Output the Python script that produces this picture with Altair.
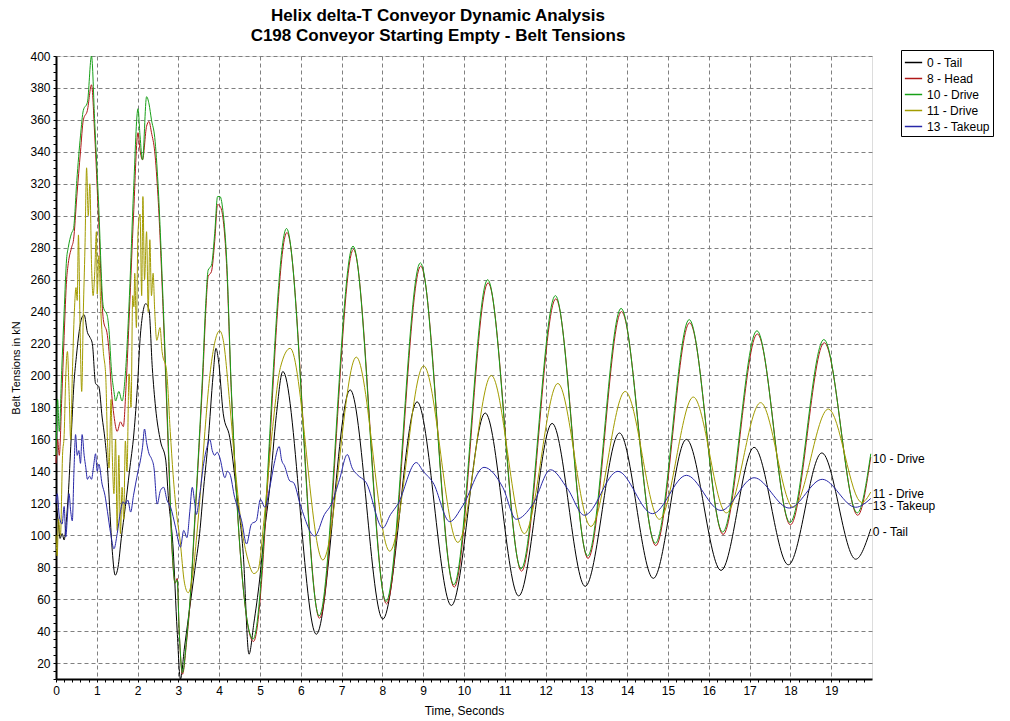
import altair as alt
import pandas as pd

names = ["0 - Tail", "8 - Head", "10 - Drive", "11 - Drive", "13 - Takeup"]
colors = ["#000000", "#b01818", "#18a018", "#a39c00", "#2828a8"]
end_labels = ["10 - Drive", "11 - Drive", "13 - Takeup", "0 - Tail"]
end_label_dy = [5, 2, 8, 3]

tail_t = [0.00, 0.05, 0.10, 0.15, 0.20, 0.25, 0.30, 0.37, 0.44, 0.50, 0.56, 0.63, 0.69, 0.77, 0.83, 0.89,
          0.97, 1.05, 1.13, 1.20, 1.26, 1.32, 1.38, 1.45, 1.52, 1.60, 1.70, 1.80, 1.91, 2.00, 2.07, 2.20,
          2.28, 2.36, 2.44, 2.56, 2.69, 2.75, 2.87, 2.97, 3.05, 3.15, 3.28, 3.40, 3.52, 3.62, 3.73, 3.85,
          3.92, 3.98, 4.10, 4.26, 4.42, 4.59, 4.73, 4.85, 4.99, 5.10, 5.24, 5.40, 5.56, 6.38, 7.21, 8.01,
          8.85, 9.69, 10.52, 11.34, 12.16, 12.97, 13.81, 14.64, 15.45, 16.30, 17.11, 17.95, 18.77, 19.60, 19.97]
tail_v = [120, 110, 98, 101, 97, 108, 125, 160, 195, 212, 226, 236, 238, 227, 224, 220,
          195, 193, 174, 160, 143, 115, 90, 75, 80, 98, 118, 140, 164, 195, 226, 245,
          241, 205, 180, 159, 147, 125, 92, 40, 10, 30, 55, 78, 101, 130, 159, 200,
          217, 210, 176, 161, 128, 88, 25.5, 45, 72, 100, 130, 175, 202.5, 38, 191, 47.5,
          183.5, 56, 176.5, 62, 170, 68, 164, 73, 160, 78, 155, 81.5, 151.5, 85, 104]

head_t = [0.00, 0.04, 0.08, 0.14, 0.20, 0.26, 0.30, 0.38, 0.43, 0.51, 0.60, 0.67, 0.77, 0.87, 0.95, 1.04,
          1.16, 1.26, 1.30, 1.36, 1.42, 1.50, 1.58, 1.65, 1.72, 1.80, 1.90, 2.01, 2.06, 2.12, 2.22, 2.28,
          2.34, 2.42, 2.50, 2.63, 2.75, 2.85, 2.92, 2.97, 3.02, 3.10, 3.20, 3.30, 3.40, 3.50, 3.60, 3.67,
          3.73, 3.81, 3.89, 3.96, 4.02, 4.10, 4.18, 4.30, 4.84, 5.66, 6.46, 7.29, 8.10, 8.94, 9.76, 10.59,
          11.41, 12.25, 13.04, 13.86, 14.70, 15.53, 16.35, 17.19, 18.00, 18.83, 19.65, 19.97]
head_v = [145, 160, 150, 185, 225, 260, 270, 280, 285, 312, 340, 360, 366, 382, 350, 300,
          235, 225, 215, 190, 175, 165, 171, 168, 195, 240, 300, 352, 341, 335, 356, 359,
          352, 340, 312, 238, 155, 88, 70, 73, 40, 13, 33, 63, 107, 152, 200, 240,
          262, 265, 284, 307, 306, 297, 270, 188, 33.5, 289.5, 48, 279, 57, 268.5, 67.5, 258,
          77.5, 248, 85.5, 240, 93.5, 233, 100.5, 226, 106.5, 220.5, 112.5, 149]

drive10_t = [0.00, 0.04, 0.08, 0.14, 0.20, 0.26, 0.30, 0.38, 0.43, 0.51, 0.60, 0.67, 0.77, 0.87, 0.95, 1.04,
             1.16, 1.26, 1.30, 1.36, 1.42, 1.46, 1.54, 1.62, 1.70, 1.80, 1.90, 2.01, 2.06, 2.12, 2.22, 2.28,
             2.34, 2.42, 2.50, 2.63, 2.75, 2.85, 2.92, 2.97, 3.02, 3.10, 3.20, 3.30, 3.40, 3.50, 3.60, 3.67,
             3.73, 3.81, 3.89, 3.96, 4.02, 4.10, 4.18, 4.30, 4.83, 5.65, 6.45, 7.28, 8.09, 8.93, 9.75, 10.58,
             11.40, 12.24, 13.03, 13.85, 14.69, 15.52, 16.34, 17.18, 17.99, 18.82, 19.64, 19.97]
drive10_v = [150, 185, 165, 203, 240, 273, 280, 289, 292, 322, 350, 366, 371, 400, 358, 310,
             243, 237, 228, 203, 190, 184, 190, 184, 201, 250, 315, 367, 350, 335, 374.5, 370,
             360, 349, 320, 243, 160, 90, 70, 72, 40, 14, 35, 65, 110, 155, 205, 245,
             266, 269, 289, 312, 312, 301, 274, 190, 35, 292, 49.5, 281, 58.5, 270.5, 69, 260,
             79, 250, 87, 242, 95, 235, 102, 228, 108, 222.5, 114, 151]

drive11_t = [0.00, 0.03, 0.06, 0.11, 0.16, 0.20, 0.24, 0.28, 0.32, 0.36, 0.40, 0.45, 0.49, 0.52, 0.55, 0.59,
             0.63, 0.67, 0.71, 0.75, 0.79, 0.83, 0.87, 0.91, 0.95, 0.99, 1.01, 1.05, 1.10, 1.16, 1.22, 1.26,
             1.30, 1.35, 1.38, 1.42, 1.46, 1.50, 1.54, 1.58, 1.62, 1.66, 1.70, 1.74, 1.79, 1.84, 1.88, 1.91,
             1.93, 1.97, 2.01, 2.06, 2.10, 2.13, 2.17, 2.22, 2.26, 2.30, 2.34, 2.38, 2.42, 2.47, 2.55, 2.60,
             2.71, 2.80, 2.87, 2.95, 3.04, 3.15, 3.24, 3.35, 3.45, 3.55, 3.65, 3.75, 3.85, 3.95, 4.01, 4.10,
             4.25, 4.40, 4.55, 4.70, 4.85, 4.95, 5.10, 5.30, 5.50, 5.74, 6.54, 7.36, 8.18, 9.01, 9.85, 10.67,
             11.48, 12.30, 13.11, 13.95, 14.79, 15.62, 16.43, 17.27, 18.07, 18.93, 19.75, 19.97]
drive11_v = [100, 87, 110, 100, 150, 163, 200, 215, 190, 160, 200, 240, 255, 247, 288, 230,
             190, 240, 280, 330, 300, 320, 270, 250, 265, 290, 251, 275, 240, 215, 199, 160,
             142, 185, 150, 126, 160, 103, 150, 101, 130, 110, 159, 140, 201, 180, 250, 243,
             264, 230, 290, 301, 250, 312, 260, 290, 240, 285, 250, 264, 240, 222, 230, 215,
             203, 165, 138, 115, 97, 70, 64, 75, 100, 130, 165, 195, 215, 226, 228, 222,
             185, 140, 105, 85, 76, 78, 110, 165, 205, 217, 84.5, 211.5, 90, 206, 95.5, 200,
             101, 195, 105.5, 190, 110, 186.5, 114, 183, 117.5, 179, 120.5, 127]

takeup_t = [0.00, 0.03, 0.08, 0.15, 0.20, 0.24, 0.28, 0.32, 0.36, 0.40, 0.44, 0.48, 0.52, 0.56, 0.60, 0.64,
            0.69, 0.73, 0.77, 0.82, 0.87, 0.92, 0.97, 1.01, 1.05, 1.13, 1.20, 1.26, 1.34, 1.42, 1.50, 1.58,
            1.64, 1.70, 1.76, 1.83, 1.90, 1.95, 2.01, 2.07, 2.12, 2.17, 2.22, 2.28, 2.34, 2.40, 2.48, 2.56,
            2.64, 2.72, 2.81, 2.93, 3.05, 3.13, 3.21, 3.28, 3.34, 3.40, 3.44, 3.52, 3.62, 3.70, 3.77, 3.83,
            3.89, 3.95, 4.01, 4.14, 4.20, 4.26, 4.38, 4.47, 4.55, 4.67, 4.79, 4.91, 5.01, 5.12, 5.24, 5.35,
            5.47, 5.53, 5.60, 5.73, 5.82, 6.00, 6.34, 6.58, 6.75, 6.95, 7.14, 7.26, 7.38, 7.60, 8.01, 8.20,
            8.38, 8.83, 9.00, 9.24, 9.65, 9.97, 10.49, 10.95, 11.28, 11.69, 12.12, 12.54, 12.95, 13.77, 14.62, 15.45,
            16.30, 17.11, 17.97, 18.78, 19.60, 19.97]
takeup_v = [120, 126, 112, 107, 118, 99, 112, 126, 115, 109, 140, 163, 150, 153, 145, 163,
            150, 142.5, 135, 137, 135, 143, 151, 140, 144.5, 132, 125, 115, 101, 91.5, 101, 115,
            121, 119.5, 122, 114.5, 125, 132, 140, 147, 155, 166.5, 158, 151, 148, 142.5, 119.5, 128,
            130, 122, 117.5, 105, 92.5, 103, 98.5, 115, 130, 120, 113, 125, 145, 155, 160, 153,
            150, 152, 149, 136, 140, 138.5, 123.5, 116, 109, 94.5, 107, 109, 122.5, 117.5, 130, 145,
            155.5, 147, 143.5, 134, 133, 118, 99.5, 113, 119.5, 135, 150.5, 142, 138, 133, 104.5, 113,
            119.5, 145.5, 140, 133, 108.5, 118.5, 142.5, 130, 110, 119.5, 141, 129, 112.5, 140, 113.5, 137.5,
            115.5, 136, 117, 135, 117.5, 123]

series = {
    "0 - Tail": (tail_t, tail_v),
    "8 - Head": (head_t, head_v),
    "10 - Drive": (drive10_t, drive10_v),
    "11 - Drive": (drive11_t, drive11_v),
    "13 - Takeup": (takeup_t, takeup_v),
}

rows = []
for name in names:
    ts, vs = series[name]
    for t, v in zip(ts, vs):
        rows.append({"series": name, "t": t, "v": v})
df = pd.DataFrame(rows)

FONT = "Liberation Sans"
x_ticks = [round(k * 0.2, 1) for k in range(0, 100)]
y_ticks = list(range(10, 401, 5))
is_int = "abs(datum.value - round(datum.value)) < 0.001"
is_20 = "datum.value % 20 == 0"

x_enc = alt.X(
    "t:Q",
    scale=alt.Scale(domain=[0, 20], nice=False, zero=False),
    axis=alt.Axis(
        values=x_ticks,
        tickCount=500,
        labelExpr=f"{is_int} ? format(datum.value, 'd') : ''",
        grid=True,
        gridOpacity={"condition": {"test": is_int, "value": 1}, "value": 0},
        gridColor="#808080",
        gridDash=[4, 3],
        gridWidth=1,
        tickSize=3,
        tickColor="#000000",
        domainColor="#000000",
        domainWidth=2,
        labelFont=FONT,
        labelFontSize=12,
        labelColor="#000000",
        labelOverlap=False,
        labelFlush=False,
        labelPadding=3,
        title="Time, Seconds",
        titleFont=FONT,
        titleFontSize=12,
        titleFontWeight="normal",
        titleColor="#000000",
        titlePadding=9,
    ),
)
y_enc = alt.Y(
    "v:Q",
    scale=alt.Scale(domain=[10, 400], nice=False, zero=False),
    axis=alt.Axis(
        values=y_ticks,
        tickCount=500,
        labelExpr=f"{is_20} ? format(datum.value, 'd') : ''",
        grid=True,
        gridOpacity={"condition": {"test": is_20, "value": 1}, "value": 0},
        gridColor="#808080",
        gridDash=[4, 3],
        gridWidth=1,
        tickSize=3,
        tickColor="#000000",
        domainColor="#000000",
        domainWidth=2,
        labelFont=FONT,
        labelFontSize=12,
        labelColor="#000000",
        labelOverlap=False,
        labelFlush=False,
        labelPadding=3,
        title="Belt Tensions in kN",
        titleFont=FONT,
        titleFontSize=11,
        titleFontWeight="normal",
        titleColor="#000000",
        titlePadding=8,
    ),
)

color_enc = alt.Color(
    "series:N",
    scale=alt.Scale(domain=names, range=colors),
    legend=alt.Legend(
        orient="none",
        legendX=845,
        legendY=-6,
        title=None,
        strokeColor="#000000",
        fillColor="#ffffff",
        padding=3,
        symbolType="stroke",
        symbolSize=300,
        symbolStrokeWidth=1.5,
        labelFont=FONT,
        labelFontSize=12,
        labelColor="#000000",
        labelOffset=4,
        rowPadding=0,
        cornerRadius=0,
    ),
)

base = alt.Chart(df).mark_line(strokeWidth=1, interpolate="monotone").encode(
    x=x_enc, y=y_enc, color=color_enc
)
layers = [base.transform_filter(alt.datum.series == n) for n in names]

label_layers = []
for name, dy in zip(end_labels, end_label_dy):
    ts, vs = series[name]
    ldf = pd.DataFrame([{"series": name, "t": ts[-1], "v": vs[-1]}])
    label_layers.append(
        alt.Chart(ldf).mark_text(
            align="left", baseline="middle", dx=2, dy=dy, font=FONT, fontSize=12, color="#000000"
        ).encode(x="t:Q", y="v:Q", text="series:N")
    )

chart = alt.layer(*layers, *label_layers).properties(
    width=816,
    height=623,
    autosize=alt.AutoSizeParams(type="none"),
    padding={"left": 56, "top": 56, "right": 138, "bottom": 42},
    title=alt.Title(
        ["Helix delta-T Conveyor Dynamic Analysis", "C198 Conveyor Starting Empty - Belt Tensions"],
        font=FONT,
        fontSize=17,
        fontWeight="bold",
        color="#000000",
        anchor="middle",
        frame="group",
        dx=-26,
        lineHeight=20,
        offset=5,
    ),
).configure_view(stroke="#505050", strokeWidth=1.5).configure(background="#ffffff")

chart.save("out.html", embed_options={"renderer": "svg", "actions": False})
